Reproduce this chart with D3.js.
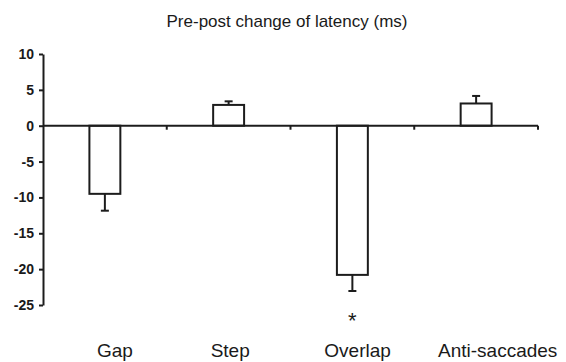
<!DOCTYPE html>
<html>
<head>
<meta charset="utf-8">
<script src="https://cdn.jsdelivr.net/npm/d3@7"></script>
<style>
  body { margin: 0; background: #fff; }
  text { font-family: "Liberation Sans", Arial, sans-serif; fill: #1a1a1a; }
</style>
</head>
<body>
<div id="container1"></div>
<script>
var categories = ["Gap", "Step", "Overlap", "Anti-saccades"];
var changes = [-9.5, 2.9, -20.8, 3.1];
var errors = [2.35, 0.5, 2.25, 1.05];
var marks = ["", "", "*", ""];
var yTicks = [10, 5, 0, -5, -10, -15, -20, -25];

var width = 566, height = 362;
var ink = "#1c1c1c";

var svg = d3.select("#container1")
  .append("svg")
    .attr("width", width)
    .attr("height", height);

var x = d3.scaleBand()
    .domain(categories)
    .range([43, 538]);

var y = d3.scaleLinear()
    .domain([-25, 10])
    .range([305, 54]);

// labels sit on their own spacing under the chart
var xl = d3.scalePoint()
    .domain(categories)
    .range([97, 438]);

svg.append("text")
  .attr("x", 287)
  .attr("y", 27)
  .attr("text-anchor", "middle")
  .style("font-size", "17px")
  .text("Pre-post change of latency (ms)");

// y axis (plain hyphen for negatives like the original)
var yAxis = svg.append("g")
  .attr("transform", "translate(" + x.range()[0] + ",0)")
  .call(d3.axisLeft(y)
    .tickValues(yTicks)
    .tickFormat(function(d) { return String(d); })
    .tickSize(4).tickSizeOuter(0).tickPadding(5));
yAxis.select(".domain").attr("stroke", ink).attr("stroke-width", 2);
yAxis.selectAll(".tick line").attr("stroke", ink).attr("stroke-width", 2);
yAxis.selectAll(".tick text")
  .style("font-size", "14px")
  .style("font-weight", "bold")
  .style("font-family", "'Liberation Sans', Arial, sans-serif")
  .attr("fill", ink);

var bw = x.bandwidth() * 0.25;

// bars
svg.append("g")
  .selectAll("rect")
  .data(categories)
  .enter()
  .append("rect")
    .attr("x", function(d) { return x(d) + x.bandwidth() / 2 - bw / 2; })
    .attr("y", function(d, i) { return y(Math.max(0, changes[i])); })
    .attr("width", bw)
    .attr("height", function(d, i) { return Math.abs(y(changes[i]) - y(0)); })
    .attr("fill", "#fff")
    .attr("stroke", ink)
    .attr("stroke-width", 2);

// error bars, one sided away from zero
var eb = svg.append("g").attr("stroke", ink).attr("stroke-width", 2);
categories.forEach(function(d, i) {
  var cx = x(d) + x.bandwidth() / 2;
  var sign = changes[i] < 0 ? -1 : 1;
  var end = changes[i] + sign * errors[i];
  eb.append("line")
    .attr("x1", cx).attr("x2", cx)
    .attr("y1", y(changes[i])).attr("y2", y(end));
  eb.append("line")
    .attr("x1", cx - 4).attr("x2", cx + 4)
    .attr("y1", y(end)).attr("y2", y(end));
});

// x axis at zero
var xa = svg.append("g").attr("stroke", ink).attr("stroke-width", 2);
xa.append("line")
  .attr("x1", x.range()[0]).attr("x2", x.range()[1])
  .attr("y1", y(0)).attr("y2", y(0));
xa.selectAll("line.tick")
  .data(categories)
  .enter()
  .append("line")
    .attr("class", "tick")
    .attr("x1", function(d) { return x(d) + x.bandwidth(); })
    .attr("x2", function(d) { return x(d) + x.bandwidth(); })
    .attr("y1", y(0))
    .attr("y2", y(0) + 4);

// significance marks
svg.append("g")
  .selectAll("text")
  .data(categories)
  .enter()
  .append("text")
    .attr("x", function(d) { return x(d) + x.bandwidth() / 2; })
    .attr("y", function(d, i) { return y(changes[i] - errors[i]) + 37; })
    .attr("text-anchor", "middle")
    .style("font-size", "22px")
    .text(function(d, i) { return marks[i]; });

// category labels
svg.append("g")
  .selectAll("text")
  .data(categories)
  .enter()
  .append("text")
    .attr("x", function(d) { return xl(d); })
    .attr("y", 357)
    .style("font-size", "19px")
    .text(function(d) { return d; });
</script>
</body>
</html>
